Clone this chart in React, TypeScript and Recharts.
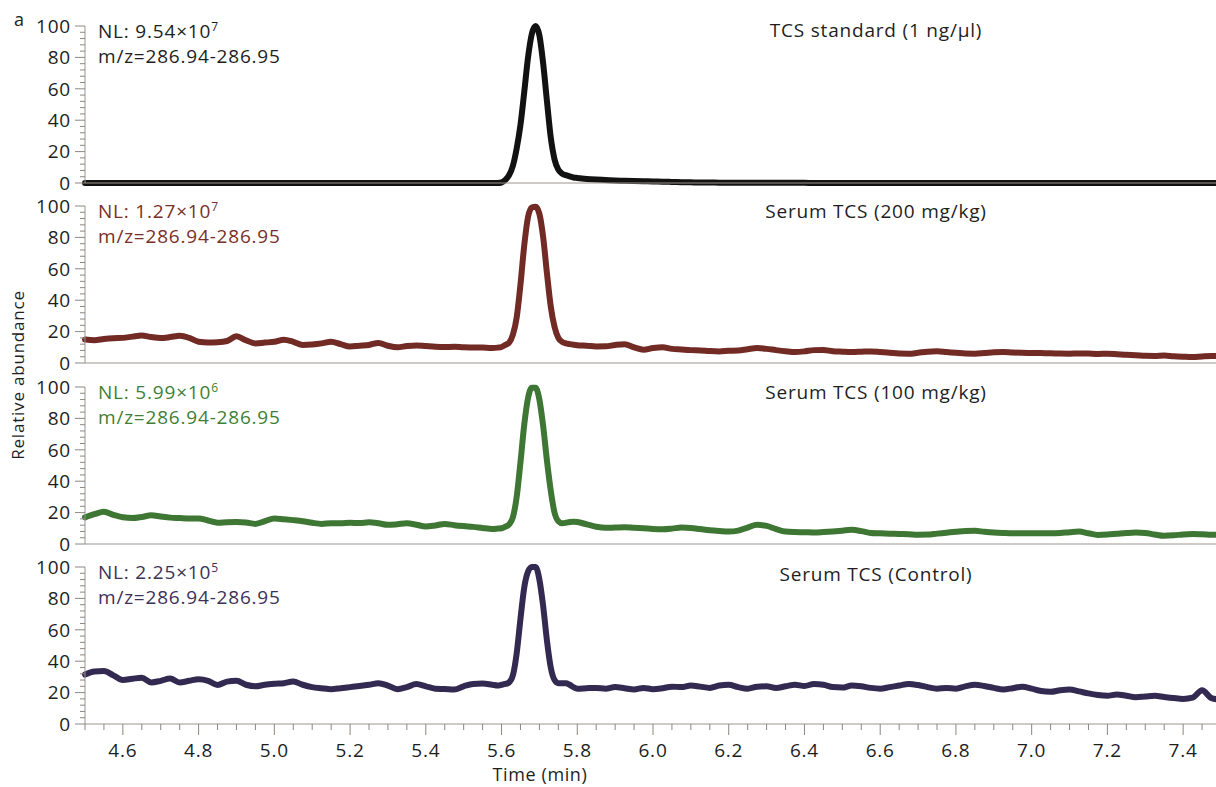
import React from 'react';
import { LineChart, Line, XAxis, YAxis } from 'recharts';

// ---------- data ----------
const timesBefore = [4.5, 4.525, 4.55, 4.575, 4.6, 4.625, 4.65, 4.675, 4.7, 4.725, 4.75, 4.775, 4.8, 4.825, 4.85, 4.875, 4.9, 4.925, 4.95, 4.975, 5.0, 5.025, 5.05, 5.075, 5.1, 5.125, 5.15, 5.175, 5.2, 5.225, 5.25, 5.275, 5.3, 5.325, 5.35, 5.375, 5.4, 5.425, 5.45, 5.475, 5.5, 5.525, 5.55, 5.575];
const timesPeak = [5.59, 5.6, 5.61, 5.62, 5.63, 5.64, 5.65, 5.66, 5.67, 5.68, 5.69, 5.7, 5.71, 5.72, 5.73, 5.74, 5.75, 5.76, 5.77, 5.78, 5.79, 5.8];
const timesAfter = [5.825, 5.85, 5.875, 5.9, 5.925, 5.95, 5.975, 6.0, 6.025, 6.05, 6.075, 6.1, 6.125, 6.15, 6.175, 6.2, 6.225, 6.25, 6.275, 6.3, 6.325, 6.35, 6.375, 6.4, 6.425, 6.45, 6.475, 6.5, 6.525, 6.55, 6.575, 6.6, 6.625, 6.65, 6.675, 6.7, 6.725, 6.75, 6.775, 6.8, 6.825, 6.85, 6.875, 6.9, 6.925, 6.95, 6.975, 7.0, 7.025, 7.05, 7.075, 7.1, 7.125, 7.15, 7.175, 7.2, 7.225, 7.25, 7.275, 7.3, 7.325, 7.35, 7.375, 7.4, 7.425, 7.45, 7.475, 7.5];

// TCS standard (black)
const stdBefore = [0, 0, 0, 0, 0, 0, 0, 0, 0, 0, 0, 0, 0, 0, 0, 0, 0, 0, 0, 0, 0, 0, 0, 0, 0, 0, 0, 0, 0, 0, 0, 0, 0, 0, 0, 0, 0, 0, 0, 0, 0, 0, 0, 0];
const stdPeak = [0, 0.3, 2, 5, 11, 22, 37, 58, 80, 95, 100, 94, 76, 52, 29, 15, 8.5, 6, 5, 4.2, 3.5, 3.2];
const stdAfter = [2.6, 2.2, 1.9, 1.6, 1.4, 1.2, 1.1, 1.0, 0.8, 0.7, 0.5, 0.4, 0.3, 0.3, 0.2, 0.2, 0.1, 0.1, 0.1, 0.1, 0.1, 0.1, 0.1, 0.1, 0, 0, 0, 0, 0, 0, 0, 0, 0, 0, 0, 0, 0, 0, 0, 0, 0, 0, 0, 0, 0, 0, 0, 0, 0, 0, 0, 0, 0, 0, 0, 0, 0, 0, 0, 0, 0, 0, 0, 0, 0, 0, 0, 0];

// Serum 200 mg/kg (red)
const s200Before = [15.0, 14.5, 15.3, 15.8, 16.0, 16.8, 17.5, 16.5, 15.9, 16.5, 17.3, 16.0, 13.5, 13.0, 13.2, 14.0, 17.0, 14.5, 12.5, 13.0, 13.5, 14.8, 13.5, 11.5, 11.8, 12.5, 13.6, 12.0, 10.5, 11.0, 11.5, 12.8, 11.0, 10.0, 10.8, 11.2, 10.8, 10.4, 10.2, 10.3, 10.0, 9.9, 9.8, 9.6];
const s200Peak = [9.8, 10.2, 11.5, 13, 18, 29, 50, 75, 93, 99, 99.5, 95, 80, 57, 36, 23, 16, 13.5, 12.5, 12, 11.6, 11.3];
const s200After = [11.0, 10.5, 10.6, 11.5, 12.0, 10.0, 8.5, 9.5, 10.0, 9.0, 8.6, 8.2, 8.0, 7.6, 7.4, 7.8, 8.0, 8.8, 9.5, 9.0, 8.2, 7.5, 7.0, 7.4, 8.2, 8.3, 7.5, 7.2, 7.0, 7.2, 7.4, 7.0, 6.5, 6.0, 5.9, 6.5, 7.2, 7.5, 7.0, 6.5, 6.0, 5.9, 6.3, 6.8, 7.0, 6.7, 6.5, 6.4, 6.3, 6.2, 6.0, 5.9, 6.1, 6.0, 5.8, 5.9, 5.6, 5.2, 5.0, 4.6, 4.5, 4.8, 4.3, 4.0, 3.8, 4.2, 4.5, 4.4];

// Serum 100 mg/kg (green)
const s100Before = [17.0, 19.0, 20.5, 18.5, 17.0, 16.5, 17.2, 18.3, 17.5, 16.8, 16.5, 16.2, 16.3, 15.0, 13.6, 13.9, 14.0, 13.7, 12.8, 14.5, 16.3, 15.8, 15.2, 14.5, 13.5, 12.8, 13.2, 13.2, 13.5, 13.4, 13.8, 13.2, 12.2, 12.6, 13.2, 12.3, 11.1, 11.8, 12.8, 12.0, 11.4, 10.9, 10.2, 9.6];
const s100Peak = [9.8, 10.0, 11.0, 12.5, 17, 30, 52, 76, 93, 99.5, 99.5, 92, 75, 53, 34, 20, 14.5, 13.2, 13.5, 14.0, 14.2, 14.0];
const s100After = [12.5, 11.0, 10.3, 10.5, 10.7, 10.3, 10.0, 9.6, 9.4, 9.8, 10.5, 10.2, 9.5, 8.8, 8.3, 7.9, 8.5, 10.5, 12.2, 11.5, 9.5, 7.9, 7.6, 7.5, 7.3, 7.6, 8.0, 8.5, 9.0, 8.2, 7.0, 6.8, 6.6, 6.4, 6.2, 5.9, 6.0, 6.6, 7.2, 7.8, 8.3, 8.4, 7.8, 7.3, 7.0, 6.8, 6.8, 6.9, 6.8, 6.8, 7.0, 7.5, 7.9, 6.8, 5.8, 6.0, 6.5, 7.0, 7.3, 7.0, 6.0, 5.2, 5.5, 6.1, 6.4, 6.2, 5.9, 5.8];

// Serum control (purple)
const ctrlBefore = [31.5, 33.5, 33.8, 31.0, 28.0, 28.8, 29.5, 26.5, 27.5, 29.0, 26.5, 27.5, 28.5, 27.5, 24.8, 27.0, 27.5, 25.0, 24.0, 25.0, 25.6, 26.0, 27.0, 25.0, 23.5, 22.8, 22.2, 22.8, 23.5, 24.2, 25.0, 26.0, 24.5, 22.2, 23.5, 25.5, 24.0, 22.5, 22.3, 22.0, 24.0, 25.5, 25.8, 25.0];
const ctrlPeak = [24.5, 25.0, 25.5, 26.5, 31, 45, 67, 87, 97, 100, 100, 92, 75, 53, 36, 28, 26, 26, 26, 25, 23.5, 22.5];
const ctrlAfter = [22.8, 23.0, 22.5, 23.5, 22.8, 22.0, 23.0, 22.2, 22.8, 23.8, 23.5, 24.5, 23.8, 23.0, 24.5, 25.0, 23.5, 22.5, 23.8, 24.0, 23.0, 24.0, 25.0, 24.2, 25.5, 25.0, 23.5, 23.2, 24.5, 24.0, 23.0, 22.5, 23.5, 24.5, 25.5, 24.8, 23.5, 22.5, 23.0, 22.5, 24.0, 25.0, 24.2, 23.0, 22.0, 22.8, 23.8, 22.5, 21.0, 20.5, 21.5, 22.0, 20.8, 19.5, 18.5, 18.0, 18.8, 18.0, 17.0, 17.5, 18.0, 17.2, 16.5, 16.0, 16.8, 21.5, 16.5, 15.5];

const panelTitles = ['TCS standard (1 ng/\u03bcl)', 'Serum TCS (200 mg/kg)', 'Serum TCS (100 mg/kg)', 'Serum TCS (Control)'];
const nlMantissa = ['9.54', '1.27', '5.99', '2.25'];
const nlExponent = ['7', '7', '6', '5'];
const mzLabel = 'm/z=286.94-286.95';

const yTicks = [0, 4, 8, 12, 16, 20, 24, 28, 32, 36, 40, 44, 48, 52, 56, 60, 64, 68, 72, 76, 80, 84, 88, 92, 96, 100];
const yLabelTicks = [0, 20, 40, 60, 80, 100];
const xTicks = [4.5, 4.55, 4.6, 4.65, 4.7, 4.75, 4.8, 4.85, 4.9, 4.95, 5.0, 5.05, 5.1, 5.15, 5.2, 5.25, 5.3, 5.35, 5.4, 5.45, 5.5, 5.55, 5.6, 5.65, 5.7, 5.75, 5.8, 5.85, 5.9, 5.95, 6.0, 6.05, 6.1, 6.15, 6.2, 6.25, 6.3, 6.35, 6.4, 6.45, 6.5, 6.55, 6.6, 6.65, 6.7, 6.75, 6.8, 6.85, 6.9, 6.95, 7.0, 7.05, 7.1, 7.15, 7.2, 7.25, 7.3, 7.35, 7.4, 7.45, 7.5];
const xLabelTicks = [4.6, 4.8, 5.0, 5.2, 5.4, 5.6, 5.8, 6.0, 6.2, 6.4, 6.6, 6.8, 7.0, 7.2, 7.4];

// ---------- styling ----------
const FONT = "'Open Sans', sans-serif";
const TICK_COLOR = '#8e8680';
const AXIS_COLOR = '#9a9590';
const TEXT_COLOR = '#1e1e1e';
const lineColors = ['#121212', '#722a24', '#3e7634', '#322a50'];
const labelColors = ['#1e1e1e', '#7a2e28', '#3f7f35', '#3b3258'];
const panelTops = [26, 206, 387, 567]; // y pixel of value 100
const PLOT_H = 157;
const TOP_PAD = 14;
const BOTTOM_PAD = 12;
const CHART_W = 1222;
const Y_AXIS_W = 85;

const build = (b: number[], p: number[], a: number[]) => {
  const times = [...timesBefore, ...timesPeak, ...timesAfter];
  const vals = [...b, ...p, ...a];
  return times.map((t, i) => ({ t, v: vals[i] ?? null }));
};

const seriesData = [
  build(stdBefore, stdPeak, stdAfter),
  build(s200Before, s200Peak, s200After),
  build(s100Before, s100Peak, s100After),
  build(ctrlBefore, ctrlPeak, ctrlAfter),
];

const YTick = (props: any) => {
  const { x, y, payload } = props;
  const major = yLabelTicks.includes(payload.value);
  return (
    <g>
      <line x1={x - (major ? 10 : 5)} x2={x} y1={y} y2={y} stroke={TICK_COLOR} strokeWidth={1} />
      {major && (
        <text x={x - 14} y={y + 6.8} textAnchor="end" fontSize={19} letterSpacing={0.8} fill={TEXT_COLOR} fontFamily={FONT}>
          {payload.value}
        </text>
      )}
    </g>
  );
};

const XTick = (props: any) => {
  const { x, y, payload } = props;
  const major = xLabelTicks.some((v) => Math.abs(v - payload.value) < 1e-6);
  return (
    <g>
      <line x1={x} x2={x} y1={y} y2={y + (major ? 11 : 6)} stroke={TICK_COLOR} strokeWidth={1} />
      {major && (
        <text x={x} y={y + 33} textAnchor="middle" fontSize={19} letterSpacing={0.8} fill={TEXT_COLOR} fontFamily={FONT}>
          {payload.value.toFixed(1)}
        </text>
      )}
    </g>
  );
};

const Panel = ({ idx }: { idx: number }) => {
  const last = idx === 3;
  const xAxisH = last ? 60 : 1;
  const bottom = last ? 0 : BOTTOM_PAD;
  const height = TOP_PAD + PLOT_H + xAxisH + bottom;
  return (
    <div style={{ position: 'absolute', left: 0, top: panelTops[idx] - TOP_PAD }}>
      <LineChart
        width={CHART_W}
        height={height}
        data={seriesData[idx]}
        margin={{ top: TOP_PAD, right: 1, bottom, left: 0 }}
      >
        <XAxis
          dataKey="t"
          type="number"
          domain={[4.5, 7.5]}
          ticks={last ? xTicks : []}
          interval={0}
          height={xAxisH}
          tickSize={0}
          tickMargin={0}
          tickLine={false}
          tick={last ? <XTick /> : false}
          axisLine={{ stroke: AXIS_COLOR, strokeWidth: 1 }}
        />
        <YAxis
          type="number"
          domain={[0, 100]}
          ticks={yTicks}
          interval={0}
          width={Y_AXIS_W}
          tickSize={0}
          tickMargin={0}
          tickLine={false}
          tick={<YTick />}
          axisLine={{ stroke: AXIS_COLOR, strokeWidth: 1 }}
        />
        <Line
          dataKey="v"
          type="monotone"
          stroke={lineColors[idx]}
          strokeWidth={6}
          strokeLinejoin="round"
          strokeLinecap="round"
          dot={false}
          activeDot={false}
          isAnimationActive={false}
        />
      </LineChart>
    </div>
  );
};

const Labels = () => (
  <svg width={1216} height={787} style={{ position: 'absolute', left: 0, top: 0, pointerEvents: 'none' }} fontFamily={FONT}>
    <text x={14} y={26} fontSize={18} fill={TEXT_COLOR}>a</text>
    {panelTitles.map((title, i) => (
      <g key={i}>
        <text x={98} y={panelTops[i] + 11.5} fontSize={19} letterSpacing={0.8} fill={labelColors[i]}>
          {'NL: ' + nlMantissa[i] + '\u00d710'}
          <tspan dy={-7} fontSize={12} letterSpacing={0}>{nlExponent[i]}</tspan>
        </text>
        <text x={98} y={panelTops[i] + 37} fontSize={19} letterSpacing={0.8} fill={labelColors[i]}>
          {mzLabel}
        </text>
        <text x={876} y={panelTops[i] + (i === 0 ? 10.5 : i === 3 ? 13.5 : 12)} textAnchor="middle" fontSize={19} letterSpacing={0.8} fill={TEXT_COLOR}>
          {title}
        </text>
      </g>
    ))}
    <text transform="translate(24,375) rotate(-90)" textAnchor="middle" fontSize={17} letterSpacing={0.8} fill={TEXT_COLOR}>
      Relative abundance
    </text>
    <text x={540} y={781} textAnchor="middle" fontSize={18} letterSpacing={0.6} fill={TEXT_COLOR}>
      Time (min)
    </text>
  </svg>
);

export default function App() {
  return (
    <div
      style={{
        position: 'absolute',
        left: 0,
        top: 0,
        width: 1216,
        height: 787,
        overflow: 'hidden',
        background: '#ffffff',
        fontFamily: FONT,
      }}
    >
      {[0, 1, 2, 3].map((i) => (
        <Panel key={i} idx={i} />
      ))}
      <Labels />
    </div>
  );
}
